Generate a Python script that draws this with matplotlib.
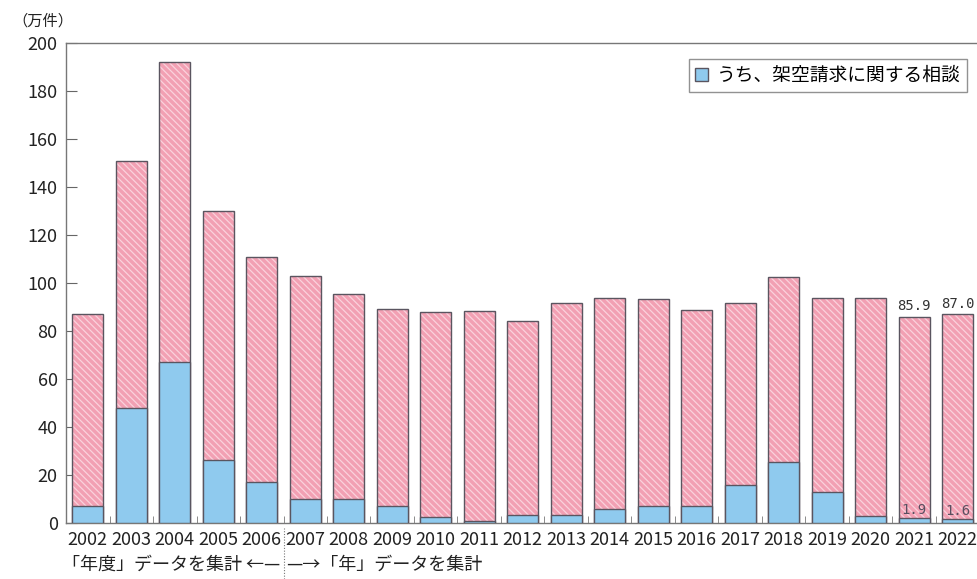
import matplotlib
matplotlib.use("Agg")
import matplotlib.pyplot as plt
from matplotlib.patches import Patch
import numpy as np

years = ["2002", "2003", "2004", "2005", "2006", "2007", "2008", "2009", "2010", "2011",
         "2012", "2013", "2014", "2015", "2016", "2017", "2018", "2019", "2020", "2021", "2022"]
total = [87.2, 150.8, 192.0, 130.2, 111.0, 103.0, 95.5, 89.0, 87.8, 88.5,
         84.2, 91.5, 93.6, 93.3, 88.8, 91.5, 102.6, 93.9, 93.9, 85.9, 87.0]
fictitious = [7.1, 47.9, 67.0, 26.3, 17.2, 10.1, 10.1, 7.1, 2.4, 1.0,
              3.2, 3.2, 5.7, 7.2, 7.2, 15.7, 25.4, 12.8, 3.0, 1.9, 1.6]
yticks = [0, 20, 40, 60, 80, 100, 120, 140, 160, 180, 200]

JP = ["Noto Sans CJK JP", "DejaVu Sans"]
NUM = ["Liberation Sans Narrow", "Noto Sans CJK JP", "DejaVu Sans"]
plt.rcParams["font.family"] = JP
plt.rcParams["hatch.linewidth"] = 0.9

fig = plt.figure(figsize=(9.78, 5.79), dpi=100)
ax = fig.add_axes([0.0675, 0.0967, 0.934, 0.829])

x = np.arange(len(years))
w = 0.72
pink = "#f2a0b3"
hatchc = "#fad2dc"
blue = "#8fcaee"
edge = "#5a5560"

ax.bar(x, total, width=w, color=pink, edgecolor=hatchc, linewidth=0,
       hatch="\\\\\\\\\\", zorder=2)
ax.bar(x, total, width=w, fill=False, edgecolor=edge, linewidth=1.0, zorder=3)
ax.bar(x, fictitious, width=w, color=blue, edgecolor=edge, linewidth=1.0, zorder=4)

# value annotations for the last two years
for i in (19, 20):
    ax.text(x[i], total[i] + 1.5, f"{total[i]:.1f}", ha="center", va="bottom",
            fontsize=10, family=["DejaVu Sans Mono"], color="#333333")
    ax.text(x[i], fictitious[i] + 0.6, f"{fictitious[i]:.1f}", ha="center", va="bottom",
            fontsize=10, family=["DejaVu Sans Mono"], color="#5a4f60", zorder=5)

ax.set_xlim(-0.5, len(years) - 0.5)
ax.set_ylim(0, 200)
ax.set_yticks(yticks)
ax.set_yticklabels([str(v) for v in yticks], family=NUM, fontsize=13, color="#222222")
ax.set_xticks(x)
ax.set_xticklabels(years, family=NUM, fontsize=13, color="#222222")
ax.tick_params(axis="x", length=0, pad=6)
ax.tick_params(axis="y", direction="in", length=8, color="#666666", pad=6)
ax.set_xticks(x[:-1] + 0.5, minor=True)
ax.tick_params(axis="x", which="minor", direction="in", length=5, color="#777777")

for s in ax.spines.values():
    s.set_color("#777777")
    s.set_linewidth(1.0)

fig.text(0.013, 0.963, "（万件）", fontsize=11, ha="left", va="center", color="#222222")

leg = ax.legend(handles=[Patch(facecolor=blue, edgecolor=edge, label="うち、架空請求に関する相談")],
                loc="upper right", bbox_to_anchor=(0.986, 0.966), fontsize=13.5,
                frameon=True, fancybox=False, edgecolor="#777777", handlelength=0.7,
                handleheight=0.7, handletextpad=0.5, borderpad=0.3, borderaxespad=0)
leg.get_frame().set_linewidth(1.0)

# bottom notes
xd = (4.5 + 0.5) / len(years) * 0.934 + 0.0675
fig.text(xd - 0.003, 0.024, "「年度」データを集計 ←—", fontsize=13, ha="right", va="center", color="#222222")
fig.text(xd + 0.003, 0.024, "—→「年」データを集計", fontsize=13, ha="left", va="center", color="#222222")
fig.add_artist(plt.Line2D([xd, xd], [0.0, 0.088], transform=fig.transFigure,
                          color="#777777", linewidth=0.8, linestyle=(0, (1, 1.5))))

fig.savefig("out.png", dpi=100)
